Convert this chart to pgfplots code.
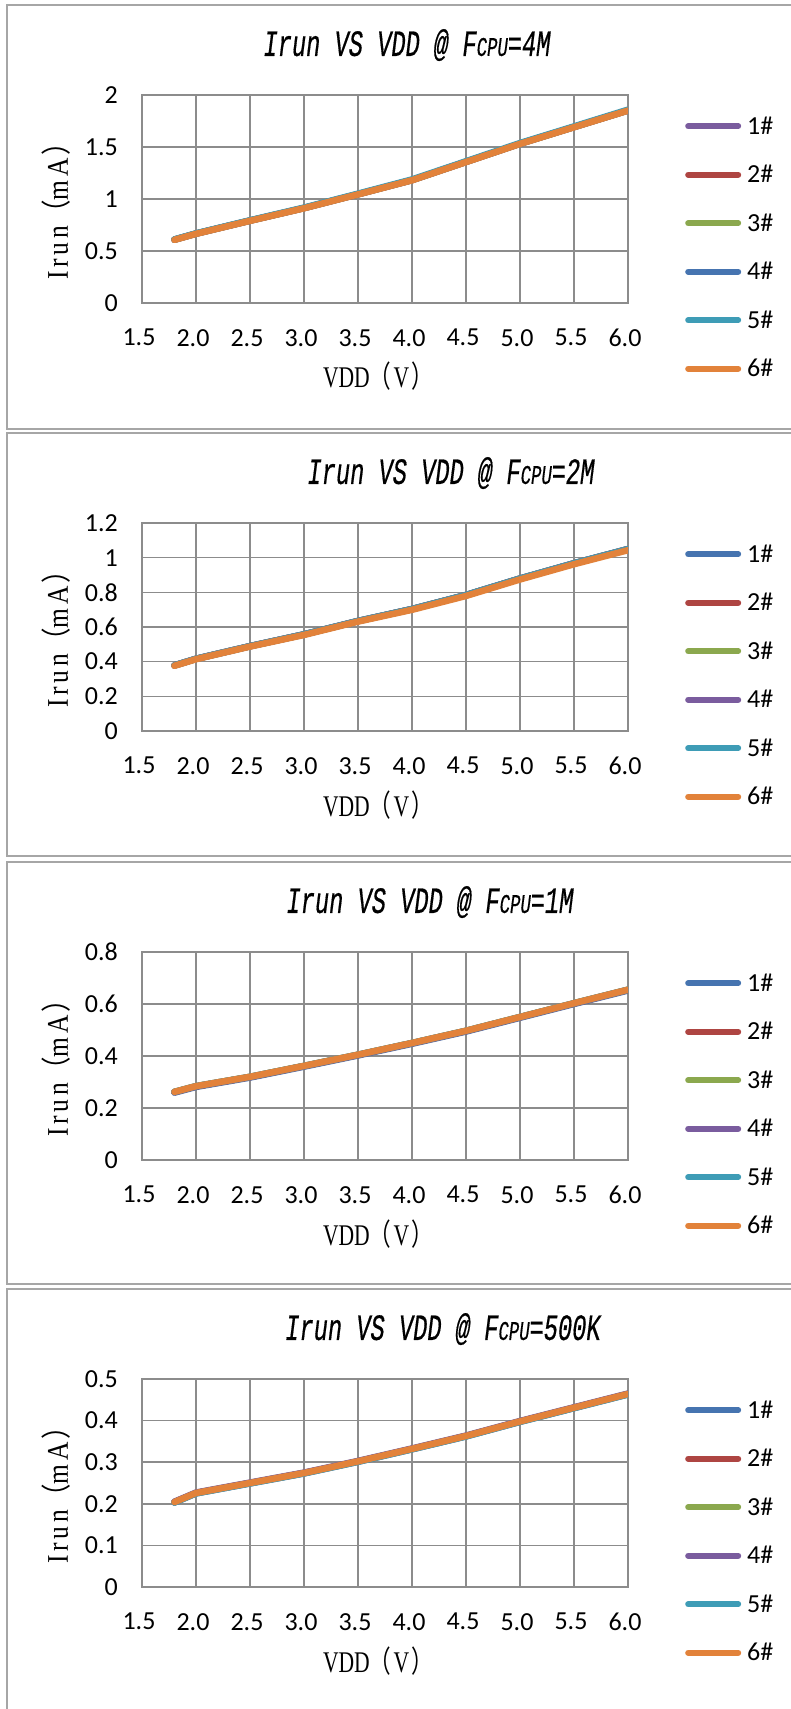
\documentclass[border=0pt]{standalone}
\usepackage{graphicx}
\usepackage{pgfplots}
\usepackage{pgfplotstable}
\pgfplotsset{compat=1.18}
\usepackage{fontspec}
\setmainfont{Carlito}
\newfontfamily\serif{Liberation Serif}
\newfontfamily\serifsp{Liberation Serif}[LetterSpace=15]
\newfontfamily\cjk{Noto Sans CJK SC}
\newfontfamily\titlefont{Liberation Mono}[FakeBold=0.6]

\definecolor{cpurple}{HTML}{7A5C9E}
\definecolor{cred}{HTML}{AE4542}
\definecolor{cgreen}{HTML}{8BA84E}
\definecolor{cblue}{HTML}{4674B0}
\definecolor{cteal}{HTML}{3E9CB6}
\definecolor{corange}{HTML}{E2823A}
\definecolor{gridgray}{HTML}{8C8C8C}
\definecolor{boxgray}{HTML}{A6A6A6}

\pgfplotstableread{
x s1 s2 s3 s4 s5 s6
1.8 0.609 0.608 0.609 0.610 0.611 0.607
2.0 0.667 0.666 0.667 0.668 0.669 0.665
2.5 0.792 0.791 0.792 0.793 0.795 0.790
3.0 0.913 0.912 0.913 0.914 0.917 0.911
3.5 1.046 1.045 1.046 1.047 1.051 1.044
4.0 1.182 1.181 1.182 1.183 1.188 1.180
4.5 1.357 1.356 1.357 1.358 1.363 1.355
5.0 1.532 1.531 1.532 1.533 1.538 1.530
5.5 1.692 1.691 1.692 1.693 1.698 1.690
6.0 1.852 1.851 1.852 1.853 1.859 1.850
}\tabA

\pgfplotstableread{
x s1 s2 s3 s4 s5 s6
1.8 0.379 0.378 0.378 0.378 0.378 0.376
2.0 0.417 0.416 0.416 0.416 0.416 0.414
2.5 0.490 0.489 0.489 0.489 0.489 0.487
3.0 0.558 0.557 0.557 0.557 0.557 0.554
3.5 0.635 0.634 0.634 0.634 0.634 0.631
4.0 0.704 0.703 0.703 0.703 0.703 0.699
4.5 0.785 0.784 0.784 0.784 0.784 0.779
5.0 0.880 0.879 0.879 0.879 0.879 0.874
5.5 0.968 0.967 0.967 0.967 0.967 0.962
6.0 1.050 1.049 1.049 1.049 1.049 1.043
}\tabB

\pgfplotstableread{
x s1 s2 s3 s4 s5 s6
1.8 0.259 0.261 0.262 0.261 0.262 0.262
2.0 0.281 0.283 0.284 0.283 0.284 0.284
2.5 0.317 0.319 0.320 0.319 0.320 0.320
3.0 0.359 0.361 0.362 0.361 0.362 0.362
3.5 0.402 0.404 0.405 0.404 0.405 0.405
4.0 0.447 0.449 0.450 0.449 0.450 0.450
4.5 0.494 0.496 0.497 0.496 0.497 0.497
5.0 0.547 0.549 0.550 0.549 0.550 0.550
5.5 0.600 0.602 0.603 0.602 0.603 0.603
6.0 0.652 0.654 0.655 0.654 0.655 0.655
}\tabC

\pgfplotstableread{
x s1 s2 s3 s4 s5 s6
1.8 0.203 0.204 0.204 0.205 0.203 0.204
2.0 0.225 0.226 0.226 0.227 0.225 0.226
2.5 0.249 0.250 0.250 0.251 0.249 0.250
3.0 0.273 0.274 0.274 0.275 0.273 0.274
3.5 0.301 0.302 0.302 0.303 0.301 0.302
4.0 0.331 0.332 0.332 0.333 0.331 0.332
4.5 0.362 0.363 0.363 0.364 0.362 0.363
5.0 0.397 0.398 0.398 0.399 0.397 0.398
5.5 0.430 0.431 0.431 0.432 0.430 0.431
6.0 0.463 0.464 0.464 0.465 0.463 0.464
}\tabD

\newcommand{\ttl}[1]{\scalebox{0.64}[1]{\fontsize{37}{37}\selectfont\titlefont\itshape Irun VS VDD @ F{\fontsize{27}{27}\selectfont CPU}=#1}}

\pgfplotsset{
 panel/.style={
  width=486pt, height=208pt, scale only axis,
  xmin=1.5, xmax=6, ymin=0,
  xtick={1.5,2,2.5,3,3.5,4,4.5,5,5.5,6},
  /pgf/number format/assume math mode=true,
  tick label style={font=\fontsize{26}{26}\selectfont},
  xticklabel style={/pgf/number format/fixed,/pgf/number format/fixed zerofill,/pgf/number format/precision=1, inner sep=0pt, anchor=north, yshift=-26pt, xshift=-3pt},
  yticklabel style={inner sep=0pt, anchor=east, xshift=-24pt},
  grid=major,
  major grid style={draw=gridgray, line width=1.5pt},
  axis line style={draw=gridgray, line width=1.5pt},
  major tick length=0pt,
  xlabel={\scalebox{0.72}[1]{\fontsize{30}{30}\selectfont\serif VDD\cjk （\hspace{3pt}\serif V\hspace{3pt}\cjk ）}},
  ylabel={\scalebox{0.85}[1]{\fontsize{30}{30}\selectfont\serifsp Irun\cjk （\serifsp mA\hspace{3pt}\cjk ）}},
  xlabel style={at={(axis description cs:0.4856,-0.4087)}, anchor=base},
  ylabel style={at={(axis description cs:-0.1523,0.471)}, anchor=base},
  title style={anchor=base},
  legend style={draw=none, fill=none, at={(axis description cs:1,1)}, anchor=north west,
    xshift=57pt, yshift=-23pt, inner sep=0pt, row sep=32.5pt, column sep=6pt,
    nodes={inner sep=0pt, text height=16pt, text depth=0pt, font=\fontsize{26}{26}\selectfont}},
  legend cell align=left,
  legend image code/.code={\draw[##1, line width=6pt, line cap=round] (3pt,0pt) -- (53pt,0pt);},
  legend entries={1\#,2\#,3\#,4\#,5\#,6\#},
  every axis plot/.append style={line width=6.5pt, line cap=round, line join=round, mark=none},
 }
}

\begin{document}
\begin{tikzpicture}
\path[use as bounding box] (0pt,0pt) rectangle (791pt,1709pt);
\fill[white] (0pt,0pt) rectangle (791pt,1709pt);
% panel frames
\draw[boxgray, line width=1.5pt] (791pt,1704pt) -- (7pt,1704pt) -- (7pt,1280pt) -- (791pt,1280pt);
\draw[boxgray, line width=1.5pt] (791pt,1276pt) -- (7pt,1276pt) -- (7pt,853pt) -- (791pt,853pt);
\draw[boxgray, line width=1.5pt] (791pt,847pt) -- (7pt,847pt) -- (7pt,425pt) -- (791pt,425pt);
\draw[boxgray, line width=1.5pt] (791pt,420pt) -- (7pt,420pt) -- (7pt,0pt);

\begin{axis}[panel, at={(142pt,1614pt)}, anchor=north west,
  ymax=2, ytick={0,0.5,1,1.5,2},
  title={\ttl{4M}}, title style={at={(axis description cs:0.5453,1.159)}}]
\addplot[cpurple] table[x=x,y=s1]{\tabA};
\addplot[cred] table[x=x,y=s2]{\tabA};
\addplot[cgreen] table[x=x,y=s3]{\tabA};
\addplot[cblue] table[x=x,y=s4]{\tabA};
\addplot[cteal] table[x=x,y=s5]{\tabA};
\addplot[corange] table[x=x,y=s6]{\tabA};
\end{axis}

\begin{axis}[panel, at={(142pt,1186pt)}, anchor=north west,
  ymax=1.2, ytick={0,0.2,0.4,0.6,0.8,1,1.2},
  title={\ttl{2M}}, title style={at={(axis description cs:0.6358,1.159)}}]
\addplot[cblue] table[x=x,y=s1]{\tabB};
\addplot[cred] table[x=x,y=s2]{\tabB};
\addplot[cgreen] table[x=x,y=s3]{\tabB};
\addplot[cpurple] table[x=x,y=s4]{\tabB};
\addplot[cteal] table[x=x,y=s5]{\tabB};
\addplot[corange] table[x=x,y=s6]{\tabB};
\end{axis}

\begin{axis}[panel, at={(142pt,757pt)}, anchor=north west,
  ymax=0.8, ytick={0,0.2,0.4,0.6,0.8},
  title={\ttl{1M}}, title style={at={(axis description cs:0.5926,1.159)}}]
\addplot[cblue] table[x=x,y=s1]{\tabC};
\addplot[cred] table[x=x,y=s2]{\tabC};
\addplot[cgreen] table[x=x,y=s3]{\tabC};
\addplot[cpurple] table[x=x,y=s4]{\tabC};
\addplot[cteal] table[x=x,y=s5]{\tabC};
\addplot[corange] table[x=x,y=s6]{\tabC};
\end{axis}

\begin{axis}[panel, at={(142pt,330pt)}, anchor=north west,
  ymax=0.5, ytick={0,0.1,0.2,0.3,0.4,0.5},
  title={\ttl{500K}}, title style={at={(axis description cs:0.6193,1.159)}}]
\addplot[cblue] table[x=x,y=s1]{\tabD};
\addplot[cred] table[x=x,y=s2]{\tabD};
\addplot[cgreen] table[x=x,y=s3]{\tabD};
\addplot[cpurple] table[x=x,y=s4]{\tabD};
\addplot[cteal] table[x=x,y=s5]{\tabD};
\addplot[corange] table[x=x,y=s6]{\tabD};
\end{axis}
\end{tikzpicture}
\end{document}
